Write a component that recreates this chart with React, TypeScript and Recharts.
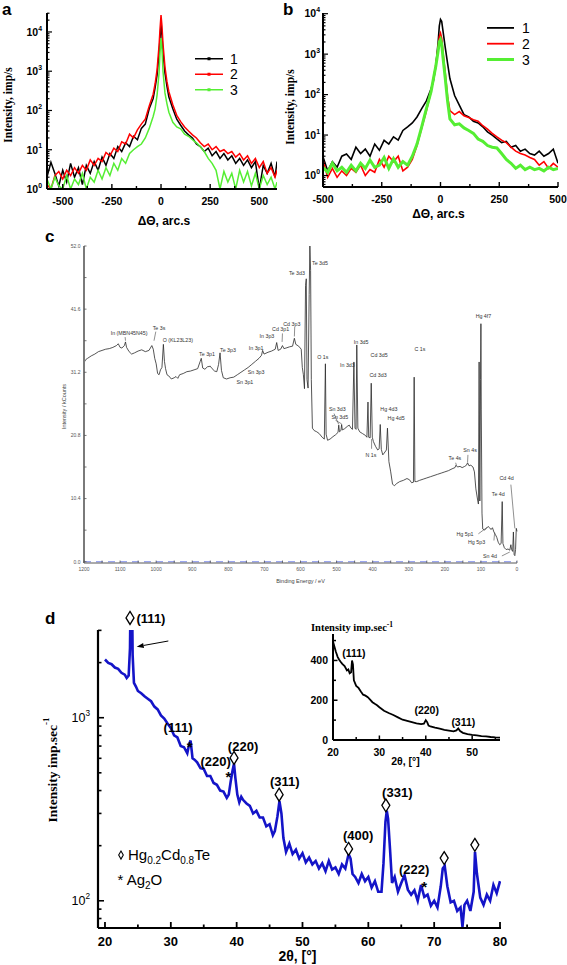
import React from "react";
import { LineChart, Line, XAxis, YAxis, Legend, ReferenceDot, ReferenceLine } from "recharts";

const SANS = '"Liberation Sans", Arial, Helvetica, sans-serif';
const SERIF = '"Liberation Serif", "Times New Roman", serif';

// ---------- (a) rocking curves, three samples ----------
const aX = [
  -580, -560, -540, -520, -500, -480, -460, -440, -420, -400,
  -380, -360, -340, -320, -300, -280, -260, -240, -220, -200,
  -180, -160, -140, -120, -100, -80, -60, -40, -30, -20,
  -10, -5, 0, 5, 10, 20, 30, 40, 60, 80,
  100, 120, 140, 160, 180, 200, 220, 240, 260, 280,
  300, 320, 340, 360, 380, 400, 420, 440, 460, 480,
  500, 520, 540, 560, 580, 590,
];
const a1 = [
  2.0, 4.8, 2.5, 1.2, 3.0, 1.5, 4.5, 2.0, 3.5, 1.3,
  4.0, 2.5, 5.0, 3.0, 6.5, 4.0, 8.0, 6.0, 12, 9,
  15, 12, 22, 18, 35, 45, 110, 200, 380, 800,
  2800, 7000, 15000, 8000, 3000, 900, 420, 220, 110, 60,
  42, 30, 24, 20, 14, 12, 9, 11, 7, 9,
  6, 8, 5.5, 7, 4.5, 6, 4, 5.5, 3.5, 5,
  1.0, 4, 2.5, 4.5, 2, 5,
];
const a2 = [
  1.3, 1.0, 2.2, 2.8, 1.8, 3.0, 2.2, 3.5, 2.5, 4.0,
  3.0, 5.5, 4.0, 6.0, 5.0, 8.5, 7.0, 11, 9, 16,
  14, 25, 20, 32, 45, 60, 130, 260, 480, 1100,
  4500, 12000, 27000, 14000, 5000, 1300, 550, 300, 140, 75,
  52, 38, 30, 24, 20, 15, 12, 14, 10, 12,
  9, 10, 8, 9, 6.5, 8, 5.5, 7, 4.5, 6,
  3.5, 5, 2.5, 3.5, 2.0, 3.0,
];
const a3 = [
  1.8, 1.0, 2.0, 1.2, 1.0, 2.2, 1.0, 1.8, 1.3, 2.5,
  1.0, 2.0, 1.5, 3.0, 1.8, 3.5, 2.2, 4.5, 3.0, 6.0,
  4.5, 8, 10, 12, 14, 20, 35, 70, 110, 250,
  900, 3000, 7000, 3500, 1000, 280, 150, 90, 50, 38,
  34, 25, 22, 18, 15, 12, 9, 6, 4.5, 3.0,
  1.0, 2.8, 1.5, 2.5, 1.0, 3.0, 1.5, 2.8, 1.2, 2.5,
  1.0, 2.2, 1.3, 2.0, 1.0, 1.5,
];

// ---------- (b) rocking curves after treatment ----------
const bX = [
  -500, -480, -460, -440, -420, -400, -380, -360, -340, -320,
  -300, -280, -260, -240, -220, -200, -180, -160, -140, -120,
  -100, -80, -60, -40, -30, -20, -10, -5, 0, 5,
  10, 20, 30, 40, 60, 80, 100, 120, 140, 160,
  180, 200, 220, 240, 260, 280, 300, 320, 340, 360,
  380, 400, 420, 440, 460, 480, 500,
];
const b1 = [
  2.9, 1.3, 2.2, 1.6, 3.0, 3.4, 2.5, 5.0, 3.5, 4.5,
  3.0, 6.0, 4.2, 7.4, 6.0, 9.0, 7.5, 13, 16, 20,
  28, 45, 70, 140, 220, 500, 2000, 5000, 7200, 6500,
  4000, 1500, 600, 250, 95, 55, 32, 28, 22, 20,
  16, 12, 10, 8, 6.5, 7, 5, 5.5, 4, 4.5,
  3.5, 3.2, 4.0, 3.0, 3.5, 4.5, 2.0,
];
const b2 = [
  2.4, 0.9, 1.5, 0.9, 1.3, 1.0, 1.5, 1.2, 1.8, 1.0,
  1.4, 1.2, 2.5, 1.6, 3.0, 2.2, 3.0, 1.3, 1.6, 2.5,
  5.5, 15, 40, 120, 250, 550, 1500, 2700, 3300, 2500,
  1200, 350, 90, 40, 32, 38, 30, 27, 24, 22,
  17, 14, 11, 9, 7.5, 6.5, 5.0, 4.0, 3.5, 3.2,
  2.8, 2.5, 1.8, 2.2, 1.5, 2.0, 1.6,
];
const b3 = [
  1.6, 1.2, 2.0, 1.3, 1.6, 1.2, 1.8, 1.3, 2.0, 1.5,
  2.4, 1.6, 1.8, 2.8, 1.5, 2.6, 1.6, 2.2, 1.8, 3.0,
  6, 16, 45, 120, 250, 500, 1200, 2000, 2300, 1800,
  900, 260, 70, 25, 18, 19, 15, 13, 11, 8,
  7, 5.5, 5, 4.8, 3.5, 2.5, 2.0, 1.5, 1.8, 1.4,
  1.6, 1.4, 1.5, 1.3, 1.6, 1.4, 1.5,
];

const rcXTicks = [-500, -375, -250, -125, 0, 125, 250, 375, 500];
const rcXLabels = [-500, -250, 0, 250, 500];
const aYTicks = [
  1, 2, 3, 4, 5, 6, 7, 8, 9, 10, 20, 30, 40, 50, 60, 70, 80, 90,
  100, 200, 300, 400, 500, 600, 700, 800, 900, 1000, 2000, 3000, 4000, 5000,
  6000, 7000, 8000, 9000, 10000, 20000, 30000,
];
const bYTicks = [
  0.6, 0.7, 0.8, 0.9, 1, 2, 3, 4, 5, 6, 7, 8, 9, 10, 20, 30, 40, 50, 60, 70, 80, 90,
  100, 200, 300, 400, 500, 600, 700, 800, 900, 1000, 2000, 3000, 4000, 5000,
  6000, 7000, 8000, 9000, 10000,
];

// ---------- (c) XPS survey ----------
const xpsE = [
  1200, 1195, 1190, 1180, 1170, 1160, 1150, 1140, 1130, 1120,
  1110, 1105, 1100, 1095, 1088, 1085, 1082, 1075, 1068, 1060,
  1050, 1040, 1030, 1020, 1012, 1008, 1004, 1000, 996, 992,
  988, 984, 980, 977, 974, 970, 965, 958, 950, 945,
  940, 935, 925, 915, 905, 895, 885, 878, 875, 871,
  865, 858, 850, 845, 838, 832, 827, 823, 819, 814,
  805, 795, 785, 775, 765, 755, 745, 735, 725, 715,
  708, 705, 701, 690, 680, 670, 666, 662, 655, 650,
  646, 640, 630, 622, 617, 613, 605, 598, 595, 592,
  589, 586, 584, 582, 579, 576, 574, 572, 570, 567,
  562, 555, 548, 540, 534, 531, 529, 525, 518, 510,
  503, 496, 494, 492, 488, 486, 484, 478, 470, 465,
  460, 456, 452, 449, 446, 444, 441, 436, 428, 420,
  416, 413, 411, 407, 404, 401, 398, 392, 386, 382,
  379, 376, 372, 368, 362, 359, 355, 350, 345, 340,
  333, 325, 315, 305, 298, 292, 287, 285, 283, 278,
  270, 260, 250, 240, 230, 220, 210, 200, 190, 180,
  172, 169, 165, 158, 152, 145, 140, 137, 133, 128,
  122, 118, 114, 110, 107, 105, 103, 101, 100, 99,
  97, 95, 90, 85, 80, 76, 72, 68, 64, 60,
  56, 52, 48, 44, 41, 39, 35, 30, 25, 20,
  17, 15, 12, 10, 8, 6, 4, 2, 0,
];
const xpsI = [
  32.8, 33.3, 33.5, 33.9, 34.2, 34.6, 34.8, 35.0, 35.1, 35.3,
  35.6, 35.9, 35.3, 35.2, 35.6, 36.2, 35.3, 34.6, 34.2, 34.4,
  34.7, 34.9, 34.6, 34.8, 35.6, 35.0, 33.5, 32.6, 31.0, 30.8,
  31.6, 32.0, 35.8, 33.0, 31.8, 30.8, 30.6, 30.1, 30.3, 30.5,
  30.2, 30.8, 31.0, 31.3, 31.4, 31.6, 31.8, 33.0, 33.5, 31.9,
  31.7, 32.1, 32.2, 31.8, 31.4, 31.3, 32.5, 34.4, 31.5, 30.3,
  30.1, 30.3, 30.4, 30.8, 31.2, 31.6, 32.0, 32.5, 33.0, 33.5,
  34.0, 34.8, 34.2, 34.5, 34.7, 35.0, 36.1, 34.8, 35.0, 35.6,
  35.1, 35.2, 35.4, 35.5, 36.8, 35.8, 35.5, 35.0, 32.0, 30.8,
  28.5, 45.5, 46.6, 30.0, 28.6, 44.0, 52.0, 48.0, 30.0, 22.0,
  21.6, 21.4, 21.1, 20.5, 20.2, 32.6, 21.0, 20.0, 20.2, 20.6,
  20.9, 21.3, 22.5, 21.4, 21.6, 22.6, 21.7, 21.9, 22.3, 22.5,
  22.0, 21.8, 32.9, 22.0, 21.8, 35.7, 22.0, 21.4, 21.1, 20.8,
  20.5, 26.3, 20.5, 20.4, 29.4, 20.5, 19.8, 19.0, 18.4, 18.6,
  22.6, 18.5, 17.6, 17.9, 18.4, 22.0, 16.5, 14.8, 12.8, 12.5,
  12.9, 13.2, 13.4, 13.7, 13.5, 13.0, 13.1, 30.4, 13.2, 13.2,
  13.4, 13.6, 13.8, 14.0, 14.2, 14.4, 14.6, 14.8, 15.0, 15.3,
  15.5, 15.9, 15.6, 15.7, 15.5, 15.7, 15.9, 16.3, 15.8, 15.9,
  15.6, 14.8, 12.0, 10.5, 9.5, 32.9, 10.0, 30.0, 39.2, 25.0,
  8.0, 5.4, 5.2, 5.5, 5.8, 5.6, 5.3, 5.6, 4.9, 4.5,
  4.0, 3.2, 2.8, 3.0, 9.9, 3.0, 2.3, 2.0, 2.1, 1.9,
  2.8, 2.0, 1.7, 4.9, 1.2, 1.0, 2.0, 5.5, 5.0,
];
const xpsTags = [
  { t: "In (MBN45N45)", e: 1075, v: 37.6 },
  { t: "Te 3s", e: 992, v: 38.5 },
  { t: "O (KL23L23)", e: 940, v: 36.5 },
  { t: "Te 3p1", e: 859, v: 34.2 },
  { t: "Te 3p3", e: 801, v: 34.8 },
  { t: "Sn 3p1", e: 754, v: 29.6 },
  { t: "Sn 3p3", e: 723, v: 31.2 },
  { t: "In 3p1", e: 723, v: 35.2 },
  { t: "In 3p3", e: 693, v: 37.1 },
  { t: "Cd 3p1", e: 655, v: 38.3 },
  { t: "Cd 3p3", e: 624, v: 39.1 },
  { t: "Te 3d3", e: 610, v: 47.6 },
  { t: "Te 3d5", e: 546, v: 49.2 },
  { t: "O 1s", e: 538, v: 33.7 },
  { t: "In 3d3", e: 470, v: 32.4 },
  { t: "In 3d5", e: 432, v: 36.2 },
  { t: "Cd 3d5", e: 382, v: 34.0 },
  { t: "Cd 3d3", e: 385, v: 30.7 },
  { t: "C 1s", e: 269, v: 35.0 },
  { t: "Hg 4f7", e: 93, v: 40.4 },
  { t: "Sn 3d3", e: 498, v: 25.2 },
  { t: "Sn 3d5", e: 491, v: 23.8 },
  { t: "Hg 4d3", e: 355, v: 25.1 },
  { t: "Hg 4d5", e: 335, v: 23.7 },
  { t: "N 1s", e: 405, v: 17.6 },
  { t: "Sn 4s", e: 130, v: 18.4 },
  { t: "Te 4s", e: 172, v: 17.0 },
  { t: "Cd 4d", e: 29, v: 13.7 },
  { t: "Te 4d", e: 52, v: 11.1 },
  { t: "Hg 5p1", e: 144, v: 4.5 },
  { t: "Hg 5p3", e: 112, v: 3.3 },
  { t: "Sn 4d", e: 75, v: 0.9 },
];
// leader lines from a tag to its peak: [e1, v1, e2, v2]
const xpsLeaders = [
  [1086, 37.0, 1085, 36.4],
  [1001, 37.9, 1006, 36.4],
  [650, 37.6, 651, 36.2],
  [616, 38.7, 617, 37.1],
  [507, 24.4, 494, 22.6],
  [503, 23.3, 486, 22.7],
  [403, 18.6, 403, 20.2],
  [170, 16.3, 168, 15.9],
  [136, 17.6, 137, 16.4],
  [17, 12.7, 6, 5.5],
  [107, 4.6, 82, 5.7],
  [64, 3.5, 62, 4.8],
  [42, 0.95, 20, 1.6],
];
const cXTicks = [0, 50, 100, 150, 200, 250, 300, 350, 400, 450, 500, 550, 600, 650, 700, 750, 800, 850, 900, 950, 1000, 1050, 1100, 1150, 1200];
const cXLabels = [0, 100, 200, 300, 400, 500, 600, 700, 800, 900, 1000, 1100, 1200];
const cYTicks = [0, 5.2, 10.4, 15.6, 20.8, 26, 31.2, 36.4, 41.6, 46.8, 52];
const cYLabels = [0, 10.4, 20.8, 31.2, 41.6, 52];

// ---------- (d) XRD scan ----------
const dX = [
  20.0, 20.5, 21.0, 21.5, 22.0, 22.5, 23.0, 23.3, 23.6, 23.8,
  23.9, 24.0, 24.1, 24.2, 24.4, 24.7, 25.0, 25.5, 26.0, 26.5,
  27.0, 27.5, 28.0, 28.5, 29.0, 29.5, 30.0, 30.5, 31.0, 31.5,
  32.0, 32.5, 32.8, 33.0, 33.3, 33.6, 34.0, 34.5, 35.0, 35.5,
  36.0, 36.5, 37.0, 37.5, 38.0, 38.5, 38.8, 39.1, 39.4, 39.6,
  39.8, 40.1, 40.4, 40.7, 41.0, 41.5, 42.0, 42.5, 43.0, 43.5,
  44.0, 44.5, 45.0, 45.5, 45.8, 46.2, 46.5, 46.8, 47.1, 47.5,
  48.0, 48.5, 49.0, 49.5, 50.0, 50.5, 51.0, 51.5, 52.0, 52.5,
  53.0, 53.5, 54.0, 54.5, 55.0, 55.5, 56.0, 56.5, 57.0, 57.3,
  57.6, 58.0, 58.5, 59.0, 59.5, 60.0, 60.5, 61.0, 61.5, 62.0,
  62.3, 62.6, 62.8, 63.0, 63.3, 63.6, 64.0, 64.5, 65.0, 65.5,
  66.0, 66.5, 67.0, 67.5, 68.0, 68.5, 69.0, 69.5, 70.0, 70.5,
  71.0, 71.3, 71.6, 72.0, 72.5, 73.0, 73.5, 74.0, 74.3, 74.6,
  75.0, 75.5, 76.0, 76.2, 76.5, 77.0, 77.5, 78.0, 78.5, 79.0,
  79.5, 80.0,
];
const dY = [
  2080, 1990, 1960, 1880, 1850, 1760, 1720, 1650, 1700, 2400,
  5000, 6000, 5000, 2200, 1550, 1480, 1400, 1360, 1310, 1270,
  1230, 1150, 1110, 1030, 990, 930, 880, 800, 780, 700,
  690, 640, 720, 750, 600, 590, 570, 530, 525, 480,
  480, 440, 430, 400, 395, 365, 380, 450, 520, 560,
  470, 380, 345, 370, 355, 340, 330, 300, 310, 285,
  285, 255, 262, 228, 240, 290, 350, 300, 220, 185,
  205, 180, 190, 170, 182, 162, 172, 158, 165, 150,
  160, 145, 165, 148, 152, 140, 158, 150, 180, 170,
  140, 135, 125, 140, 128, 135, 118, 128, 112, 112,
  160, 270, 310, 280, 190, 125, 135, 112, 125, 138,
  115, 108, 114, 100, 122, 105, 108, 94, 100, 92,
  120, 150, 155, 120, 98, 100, 88, 92, 72, 95,
  100, 88, 112, 185, 140, 104, 95, 108, 100, 122,
  110, 128,
];
const dXTicks = [20, 25, 30, 35, 40, 45, 50, 55, 60, 65, 70, 75, 80];
const dXLabels = [20, 30, 40, 50, 60, 70, 80];
const dYTicks = [80, 90, 100, 200, 300, 400, 500, 600, 700, 800, 900, 1000, 2000, 3000];
const dPeakTags = [
  { t: "(111)", x: 31.1, y: 881 },
  { t: "(220)", x: 36.8, y: 574 },
  { t: "(220)", x: 40.97, y: 700 },
  { t: "(311)", x: 47.3, y: 446 },
  { t: "(400)", x: 58.45, y: 228 },
  { t: "(331)", x: 64.4, y: 390 },
  { t: "(222)", x: 66.96, y: 148 },
];
const dDiamonds = [
  { x: 39.6, y: 603 },
  { x: 46.45, y: 380 },
  { x: 57.0, y: 192 },
  { x: 62.66, y: 332 },
  { x: 71.52, y: 171 },
  { x: 76.18, y: 202 },
];
const dStars = [
  { x: 32.87, y: 724 },
  { x: 38.75, y: 495 },
  { x: 68.48, y: 124 },
];

// inset: linear scale scan
const iX = [
  20.0, 20.3, 20.6, 21.0, 21.3, 21.6, 22.0, 22.5, 23.0, 23.3,
  23.6, 23.9, 24.1, 24.3, 24.5, 25.0, 25.5, 26.0, 26.5, 27.0,
  27.5, 28.0, 28.5, 29.0, 29.5, 30.0, 31.0, 32.0, 33.0, 34.0,
  35.0, 36.0, 37.0, 38.0, 39.0, 39.6, 40.0, 40.3, 40.6, 41.0,
  42.0, 43.0, 44.0, 45.0, 46.0, 46.6, 47.0, 47.4, 48.0, 49.0,
  50.0, 51.0, 52.0, 53.0, 54.0, 55.0, 56.0,
];
const iY = [
  495, 470, 445, 418, 405, 395, 383, 372, 350, 355,
  335, 340, 400, 380, 300, 272, 262, 244, 228, 223,
  215, 203, 190, 182, 175, 165, 147, 136, 126, 114,
  102, 96, 90, 84, 80, 82, 100, 90, 72, 68,
  62, 57, 51, 47, 43, 48, 58, 45, 36, 30,
  26, 23, 20, 18, 15, 13, 12,
];
const iXTicks = [20, 25, 30, 35, 40, 45, 50, 55];
const iXLabels = [20, 30, 40, 50];
const iYTicks = [0, 100, 200, 300, 400, 500];
const iYLabels = [0, 200, 400];
const iTags = [
  { t: "(111)", x: 24.5, y: 437 },
  { t: "(220)", x: 40.2, y: 147 },
  { t: "(311)", x: 48.1, y: 91 },
];

// ---------- tick renderers (tickSize/tickMargin 0 => x,y sit on the axis line) ----------
const isDecade = (v: number) => Math.abs(Math.log10(v) - Math.round(Math.log10(v))) < 1e-6;

const logTickLeft = (o: { fs: number; gap: number; major: number; minor: number; weight: string; sw: number }) =>
  (p: any) => {
    const v = p.payload.value;
    const maj = isDecade(v);
    return (
      <g>
        <line x1={p.x} x2={p.x + (maj ? o.major : o.minor)} y1={p.y} y2={p.y} stroke="#000" strokeWidth={o.sw} />
        {maj && (
          <text x={p.x - o.gap} y={p.y + o.fs * 0.36} textAnchor="end" fontFamily={SANS} fontWeight={o.weight} fontSize={o.fs} fill="#000">
            10<tspan dy={-o.fs * 0.48} fontSize={o.fs * 0.66}>{Math.round(Math.log10(v))}</tspan>
          </text>
        )}
      </g>
    );
  };

const tickBottom = (o: { labels: number[]; fs: number; dy: number; major: number; minor: number; weight: string; color: string; sw: number; fmt?: (v: number) => string }) =>
  (p: any) => {
    const v = p.payload.value;
    const lab = o.labels.includes(v);
    return (
      <g>
        <line x1={p.x} x2={p.x} y1={p.y} y2={p.y - (lab ? o.major : o.minor)} stroke={o.color} strokeWidth={o.sw} />
        {lab && (
          <text x={p.x} y={p.y + o.dy} textAnchor="middle" fontFamily={SANS} fontWeight={o.weight} fontSize={o.fs} fill={o.color}>
            {o.fmt ? o.fmt(v) : String(v)}
          </text>
        )}
      </g>
    );
  };

const tickLeft = (o: { labels: number[]; fs: number; gap: number; major: number; minor: number; weight: string; color: string; sw: number; fmt?: (v: number) => string }) =>
  (p: any) => {
    const v = p.payload.value;
    const lab = o.labels.includes(v);
    return (
      <g>
        <line x1={p.x} x2={p.x + (lab ? o.major : o.minor)} y1={p.y} y2={p.y} stroke={o.color} strokeWidth={o.sw} />
        {lab && (
          <text x={p.x - o.gap} y={p.y + o.fs * 0.36} textAnchor="end" fontFamily={SANS} fontWeight={o.weight} fontSize={o.fs} fill={o.color}>
            {o.fmt ? o.fmt(v) : String(v)}
          </text>
        )}
      </g>
    );
  };

const tickTopIn = (len: number, color: string) => (p: any) => (
  <line x1={p.x} x2={p.x} y1={p.y} y2={p.y + len} stroke={color} strokeWidth={0.8} />
);
const tickRightIn = (len: number, color: string) => (p: any) => (
  <line x1={p.x} x2={p.x - len} y1={p.y} y2={p.y} stroke={color} strokeWidth={0.8} />
);

// text placed at a reference dot (viewBox centre)
const tagText = (node: React.ReactNode, o: { fs: number; weight?: string; family?: string; anchor?: string; dx?: number; dy?: number; fill?: string }) =>
  (p: any) => {
    const vb = p.viewBox || { x: 0, y: 0, width: 0, height: 0 };
    const cx = vb.x + (vb.width || 0) / 2;
    const cy = vb.y + (vb.height || 0) / 2;
    return (
      <text x={cx + (o.dx || 0)} y={cy + (o.dy || 0) + o.fs * 0.35} textAnchor={o.anchor || "middle"} fontFamily={o.family || SANS} fontWeight={o.weight || "normal"} fontSize={o.fs} fill={o.fill || "#000"}>
        {node}
      </text>
    );
  };

const diamond = (hw: number, hh: number, sw: number) => (p: any) => (
  <polygon points={`${p.cx},${p.cy - hh} ${p.cx + hw},${p.cy} ${p.cx},${p.cy + hh} ${p.cx - hw},${p.cy}`} fill="#fff" stroke="#000" strokeWidth={sw} />
);

const arrowShape = (p: any) => {
  const { x1, y1, x2, y2 } = p;
  const ang = Math.atan2(y2 - y1, x2 - x1);
  const bx = x2 - 7 * Math.cos(ang);
  const by = y2 - 7 * Math.sin(ang);
  const px = -Math.sin(ang) * 2.6;
  const py = Math.cos(ang) * 2.6;
  return (
    <g>
      <line x1={x1} y1={y1} x2={bx} y2={by} stroke="#000" strokeWidth={1} />
      <polygon points={`${x2},${y2} ${bx + px},${by + py} ${bx - px},${by - py}`} fill="#000" />
    </g>
  );
};

const legendRows = (o: { len: number; gap: number; row: number; widths: number[]; marks: boolean; fs: number }) =>
  (props: any) => {
    const items = props.payload || [];
    return (
      <svg width={o.len + o.gap + 14} height={o.row * items.length} style={{ display: "block", overflow: "visible" }}>
        {items.map((it: any, i: number) => {
          const cy = o.row * i + o.row / 2;
          return (
            <g key={i}>
              <line x1={0} x2={o.len} y1={cy} y2={cy} stroke={it.color} strokeWidth={o.widths[i]} />
              {o.marks && <rect x={o.len / 2 - 1.5} y={cy - 1.5} width={3} height={3} fill={it.color} />}
              <text x={o.len + o.gap} y={cy + o.fs * 0.36} fontSize={o.fs} fontFamily={SANS} fill="#000">{it.value}</text>
            </g>
          );
        })}
      </svg>
    );
  };

const rotTitle = (node: React.ReactNode, o: { x: number; dy: number; fs: number; family: string; weight: string; fill?: string }) =>
  (p: any) => {
    const vb = p.viewBox;
    const x = vb.x + o.x;
    const y = vb.y + vb.height / 2 + o.dy;
    return (
      <text x={x} y={y} transform={`rotate(-90 ${x} ${y})`} textAnchor="middle" dominantBaseline="central" fontFamily={o.family} fontWeight={o.weight} fontSize={o.fs} fill={o.fill || "#000"}>
        {node}
      </text>
    );
  };

const xTitle = (node: React.ReactNode, o: { dx: number; dy: number; fs: number; family: string; weight: string; fill?: string }) =>
  (p: any) => {
    const vb = p.viewBox;
    return (
      <text x={vb.x + vb.width / 2 + o.dx} y={vb.y + o.dy} textAnchor="middle" fontFamily={o.family} fontWeight={o.weight} fontSize={o.fs} fill={o.fill || "#000"}>
        {node}
      </text>
    );
  };

const black2 = { stroke: "#000", strokeWidth: 2 };
const dTheta = "\u0394\u0398, arc.s";

function PanelA() {
  const rows = aX.map((x, i) => ({ x, s1: a1[i], s2: a2[i], s3: a3[i] }));
  return (
    <LineChart width={290} height={230} data={rows} margin={{ top: 13, right: 13, bottom: 0, left: 0 }}>
      <XAxis dataKey="x" type="number" domain={[-580, 590]} allowDataOverflow ticks={rcXTicks} interval={0} height={41}
        tickSize={0} tickMargin={0} tickLine={false} axisLine={black2}
        tick={tickBottom({ labels: rcXLabels, fs: 10.5, dy: 16, major: 5, minor: 3, weight: "bold", color: "#000", sw: 1.4 })}
        label={xTitle(dTheta, { dx: 2, dy: 36, fs: 12, family: SANS, weight: "bold" })} />
      <YAxis type="number" scale="log" domain={[1, 30400]} allowDataOverflow ticks={aYTicks} interval={0} width={47}
        tickSize={0} tickMargin={0} tickLine={false} axisLine={black2}
        tick={logTickLeft({ fs: 10.5, gap: 5, major: 5, minor: 2.5, weight: "bold", sw: 1.2 })}
        label={rotTitle("Intensity, imp/s", { x: 7.5, dy: 4, fs: 11.5, family: SERIF, weight: "bold" })} />
      <Line dataKey="s1" name="1" stroke="#000" strokeWidth={1.5} dot={false} isAnimationActive={false} />
      <Line dataKey="s2" name="2" stroke="#f00" strokeWidth={1.5} dot={false} isAnimationActive={false} />
      <Line dataKey="s3" name="3" stroke="#55ee33" strokeWidth={1.5} dot={false} isAnimationActive={false} />
      <Legend layout="horizontal" verticalAlign="middle" align="center"
        content={legendRows({ len: 28, gap: 7, row: 15.5, widths: [1.5, 1.5, 1.5], marks: true, fs: 14 })}
        wrapperStyle={{ left: 195, top: 50.5, width: 50 }} />
    </LineChart>
  );
}

function PanelB() {
  const rows = bX.map((x, i) => ({ x, s1: b1[i], s2: b2[i], s3: b3[i] }));
  return (
    <LineChart width={287} height={230} data={rows} margin={{ top: 13, right: 9, bottom: 0, left: 0 }}>
      <XAxis dataKey="x" type="number" domain={[-500, 500]} allowDataOverflow ticks={rcXTicks} interval={0} height={43}
        tickSize={0} tickMargin={0} tickLine={false} axisLine={black2}
        tick={tickBottom({ labels: rcXLabels, fs: 10.5, dy: 16, major: 5, minor: 3, weight: "bold", color: "#000", sw: 1.4 })}
        label={xTitle(dTheta, { dx: -2, dy: 31, fs: 12, family: SANS, weight: "bold" })} />
      <YAxis type="number" scale="log" domain={[0.52, 10400]} allowDataOverflow ticks={bYTicks} interval={0} width={43}
        tickSize={0} tickMargin={0} tickLine={false} axisLine={black2}
        tick={logTickLeft({ fs: 10.5, gap: 3, major: 5, minor: 2.5, weight: "bold", sw: 1.2 })}
        label={rotTitle("Intensity, imp/s", { x: 9.5, dy: 7, fs: 11.5, family: SERIF, weight: "bold" })} />
      <Line dataKey="s1" name="1" stroke="#000" strokeWidth={1.6} dot={false} isAnimationActive={false} />
      <Line dataKey="s2" name="2" stroke="#f00" strokeWidth={1.6} dot={false} isAnimationActive={false} />
      <Line dataKey="s3" name="3" stroke="#55ee33" strokeWidth={3} dot={false} isAnimationActive={false} />
      <Legend layout="horizontal" verticalAlign="middle" align="center"
        content={legendRows({ len: 27, gap: 8, row: 15.8, widths: [1.8, 1.8, 3], marks: false, fs: 14 })}
        wrapperStyle={{ left: 206.5, top: 20.4, width: 50 }} />
    </LineChart>
  );
}

function PanelC() {
  const rows = xpsE.map((e, i) => ({ e, v: xpsI[i] }));
  const grey = "#555";
  return (
    <LineChart width={567} height={360} data={rows} margin={{ top: 21, right: 50, bottom: 0, left: 0 }}>
      <XAxis dataKey="e" type="number" domain={[0, 1200]} reversed ticks={cXTicks} interval={0} height={22}
        tickSize={0} tickMargin={0} tickLine={false} axisLine={{ stroke: "#444", strokeWidth: 0.9 }}
        tick={tickBottom({ labels: cXLabels, fs: 5, dy: 8, major: 2.5, minor: 2.5, weight: "normal", color: grey, sw: 0.8 })}
        label={xTitle("Binding Energy / eV", { dx: 0, dy: 19.5, fs: 5.5, family: SANS, weight: "normal", fill: "#444" })} />
      <XAxis xAxisId="top" orientation="top" type="number" domain={[0, 1200]} reversed ticks={cXTicks} interval={0} height={0}
        tickSize={0} tickMargin={0} tickLine={false} axisLine={{ stroke: "#444", strokeWidth: 0.9 }} tick={tickTopIn(2.5, "#444")} />
      <YAxis type="number" domain={[-0.21, 52]} allowDataOverflow ticks={cYTicks} interval={0} width={84}
        tickSize={0} tickMargin={0} tickLine={false} axisLine={{ stroke: "#7a7a7a", strokeWidth: 2 }}
        tick={tickLeft({ labels: cYLabels, fs: 5, gap: 3.5, major: 2.5, minor: 2.5, weight: "normal", color: grey, sw: 0.8, fmt: (v) => v.toFixed(1) })}
        label={rotTitle("Intensity / kCounts", { x: 64, dy: 2, fs: 5.5, family: SANS, weight: "normal", fill: "#444" })} />
      <YAxis yAxisId="right" orientation="right" type="number" domain={[-0.21, 52]} ticks={cYTicks} interval={0} width={0}
        tickSize={0} tickMargin={0} tickLine={false} axisLine={{ stroke: "#444", strokeWidth: 0.9 }} tick={tickRightIn(2.5, "#444")} />
      <ReferenceLine y={0} stroke="#7080e8" strokeWidth={0.9} strokeDasharray="7 5" />
      <Line dataKey="v" stroke="#2a2a2a" strokeWidth={0.8} dot={false} isAnimationActive={false} />
      {xpsLeaders.map((s, i) => (
        <ReferenceLine key={`l${i}`} segment={[{ x: s[0], y: s[1] }, { x: s[2], y: s[3] }]} stroke="#444" strokeWidth={0.6} ifOverflow="visible" />
      ))}
      {xpsTags.map((t, i) => (
        <ReferenceDot key={`t${i}`} x={t.e} y={t.v} r={1} fill="none" stroke="none" ifOverflow="visible"
          label={tagText(t.t, { fs: 5.3, fill: "#333" })} />
      ))}
    </LineChart>
  );
}

function PanelD() {
  const rows = dX.map((x, i) => ({ x, v: dY[i] }));
  return (
    <LineChart width={567} height={380} data={rows} margin={{ top: 45, right: 66, bottom: 0, left: 0 }}>
      <XAxis dataKey="x" type="number" domain={[18.94, 80.15]} allowDataOverflow ticks={dXTicks} interval={0} height={37}
        tickSize={0} tickMargin={0} tickLine={false} axisLine={{ stroke: "#000", strokeWidth: 2.2 }}
        tick={tickBottom({ labels: dXLabels, fs: 13, dy: 18, major: 6, minor: 3.5, weight: "bold", color: "#000", sw: 1.8 })}
        label={xTitle(<>2&#952;, [&#176;]</>, { dx: -2, dy: 32.5, fs: 14, family: SANS, weight: "bold" })} />
      <YAxis type="number" scale="log" domain={[71, 3014]} allowDataOverflow ticks={dYTicks} interval={0} width={98}
        tickSize={0} tickMargin={0} tickLine={false} axisLine={{ stroke: "#000", strokeWidth: 2.2 }}
        tick={logTickLeft({ fs: 12.5, gap: 8, major: 6, minor: 3.5, weight: "normal", sw: 1.6 })}
        label={rotTitle(<>Intensity imp.sec<tspan dy={-6} fontSize={9}>-1</tspan></>, { x: 52, dy: -9, fs: 13.5, family: SERIF, weight: "bold" })} />
      <Line dataKey="v" stroke="#1414c8" strokeWidth={2.6} dot={false} isAnimationActive={false} />
      <ReferenceLine segment={[{ x: 29.62, y: 2625 }, { x: 24.82, y: 2443 }]} ifOverflow="visible" shape={arrowShape} />
      <ReferenceDot x={23.8} y={3507} r={6} ifOverflow="visible" shape={diamond(4, 6.5, 1.3)} />
      <ReferenceDot x={26.99} y={3507} r={1} fill="none" stroke="none" ifOverflow="visible"
        label={tagText("(111)", { fs: 13, weight: "bold" })} />
      {dPeakTags.map((t, i) => (
        <ReferenceDot key={`p${i}`} x={t.x} y={t.y} r={1} fill="none" stroke="none" ifOverflow="visible"
          label={tagText(t.t, { fs: 13, weight: "bold" })} />
      ))}
      {dDiamonds.map((d, i) => (
        <ReferenceDot key={`d${i}`} x={d.x} y={d.y} r={6} ifOverflow="visible" shape={diamond(4, 6.5, 1.3)} />
      ))}
      {dStars.map((d, i) => (
        <ReferenceDot key={`s${i}`} x={d.x} y={d.y} r={1} fill="none" stroke="none" ifOverflow="visible"
          label={tagText("*", { fs: 15, weight: "bold", dy: 3 })} />
      ))}
      <ReferenceDot x={22.43} y={177.7} r={4} ifOverflow="visible" shape={diamond(2.3, 4, 1.1)} />
      <ReferenceDot x={22.43} y={177.7} r={1} fill="none" stroke="none" ifOverflow="visible"
        label={tagText(<>Hg<tspan dy={4} fontSize={10}>0.2</tspan><tspan dy={-4}>Cd</tspan><tspan dy={4} fontSize={10}>0.8</tspan><tspan dy={-4}>Te</tspan></>, { fs: 15, anchor: "start", dx: 7 })} />
      <ReferenceDot x={22.43} y={129.8} r={1} fill="none" stroke="none" ifOverflow="visible"
        label={tagText(<>* Ag<tspan dy={4} fontSize={10}>2</tspan><tspan dy={-4}>O</tspan></>, { fs: 15, anchor: "start", dx: -3.5 })} />
    </LineChart>
  );
}

function Inset() {
  const rows = iX.map((x, i) => ({ x, v: iY[i] }));
  return (
    <LineChart width={240} height={160} data={rows} margin={{ top: 24, right: 20, bottom: 0, left: 0 }}>
      <XAxis dataKey="x" type="number" domain={[20, 56]} allowDataOverflow ticks={iXTicks} interval={0} height={30}
        tickSize={0} tickMargin={0} tickLine={false} axisLine={{ stroke: "#000", strokeWidth: 2 }}
        tick={tickBottom({ labels: iXLabels, fs: 10.5, dy: 16, major: 4.5, minor: 3, weight: "bold", color: "#000", sw: 1.5 })}
        label={xTitle(<>2&#952;, [&#176;]</>, { dx: -11, dy: 25, fs: 10.5, family: SANS, weight: "bold" })} />
      <YAxis type="number" domain={[0, 533]} allowDataOverflow ticks={iYTicks} interval={0} width={53}
        tickSize={0} tickMargin={0} tickLine={false} axisLine={{ stroke: "#000", strokeWidth: 2 }}
        tick={tickLeft({ labels: iYLabels, fs: 10.5, gap: 5, major: 4.5, minor: 3, weight: "bold", color: "#000", sw: 1.5 })}
        label={(p: any) => (
          <text x={p.viewBox.x + 31} y={p.viewBox.y - 3} fontFamily={SERIF} fontWeight="bold" fontSize={10.5} fill="#000">
            Intensity imp.sec<tspan dy={-4.5} fontSize={7.5}>-1</tspan>
          </text>
        )} />
      <Line dataKey="v" stroke="#000" strokeWidth={1.8} dot={false} isAnimationActive={false} />
      {iTags.map((t, i) => (
        <ReferenceDot key={`i${i}`} x={t.x} y={t.y} r={1} fill="none" stroke="none" ifOverflow="visible"
          label={tagText(t.t, { fs: 10.5, weight: "bold" })} />
      ))}
    </LineChart>
  );
}

const letter = { fontFamily: SANS, fontWeight: "bold" as const, fontSize: 17 };

export default function App() {
  return (
    <div style={{ position: "absolute", left: 0, top: 0, width: 567, height: 965, background: "#fff", overflow: "hidden" }}>
      <svg width={567} height={965} style={{ position: "absolute", left: 0, top: 0 }}>
        <text x={2} y={15} {...letter}>a</text>
        <text x={283} y={15} {...letter}>b</text>
        <text x={45} y={242} {...letter}>c</text>
        <text x={45} y={624} {...letter}>d</text>
      </svg>
      <div style={{ position: "absolute", left: 0, top: 0 }}><PanelA /></div>
      <div style={{ position: "absolute", left: 280, top: 0 }}><PanelB /></div>
      <div style={{ position: "absolute", left: 0, top: 225 }}><PanelC /></div>
      <div style={{ position: "absolute", left: 0, top: 585 }}><PanelD /></div>
      <div style={{ position: "absolute", left: 280, top: 610 }}><Inset /></div>
    </div>
  );
}
